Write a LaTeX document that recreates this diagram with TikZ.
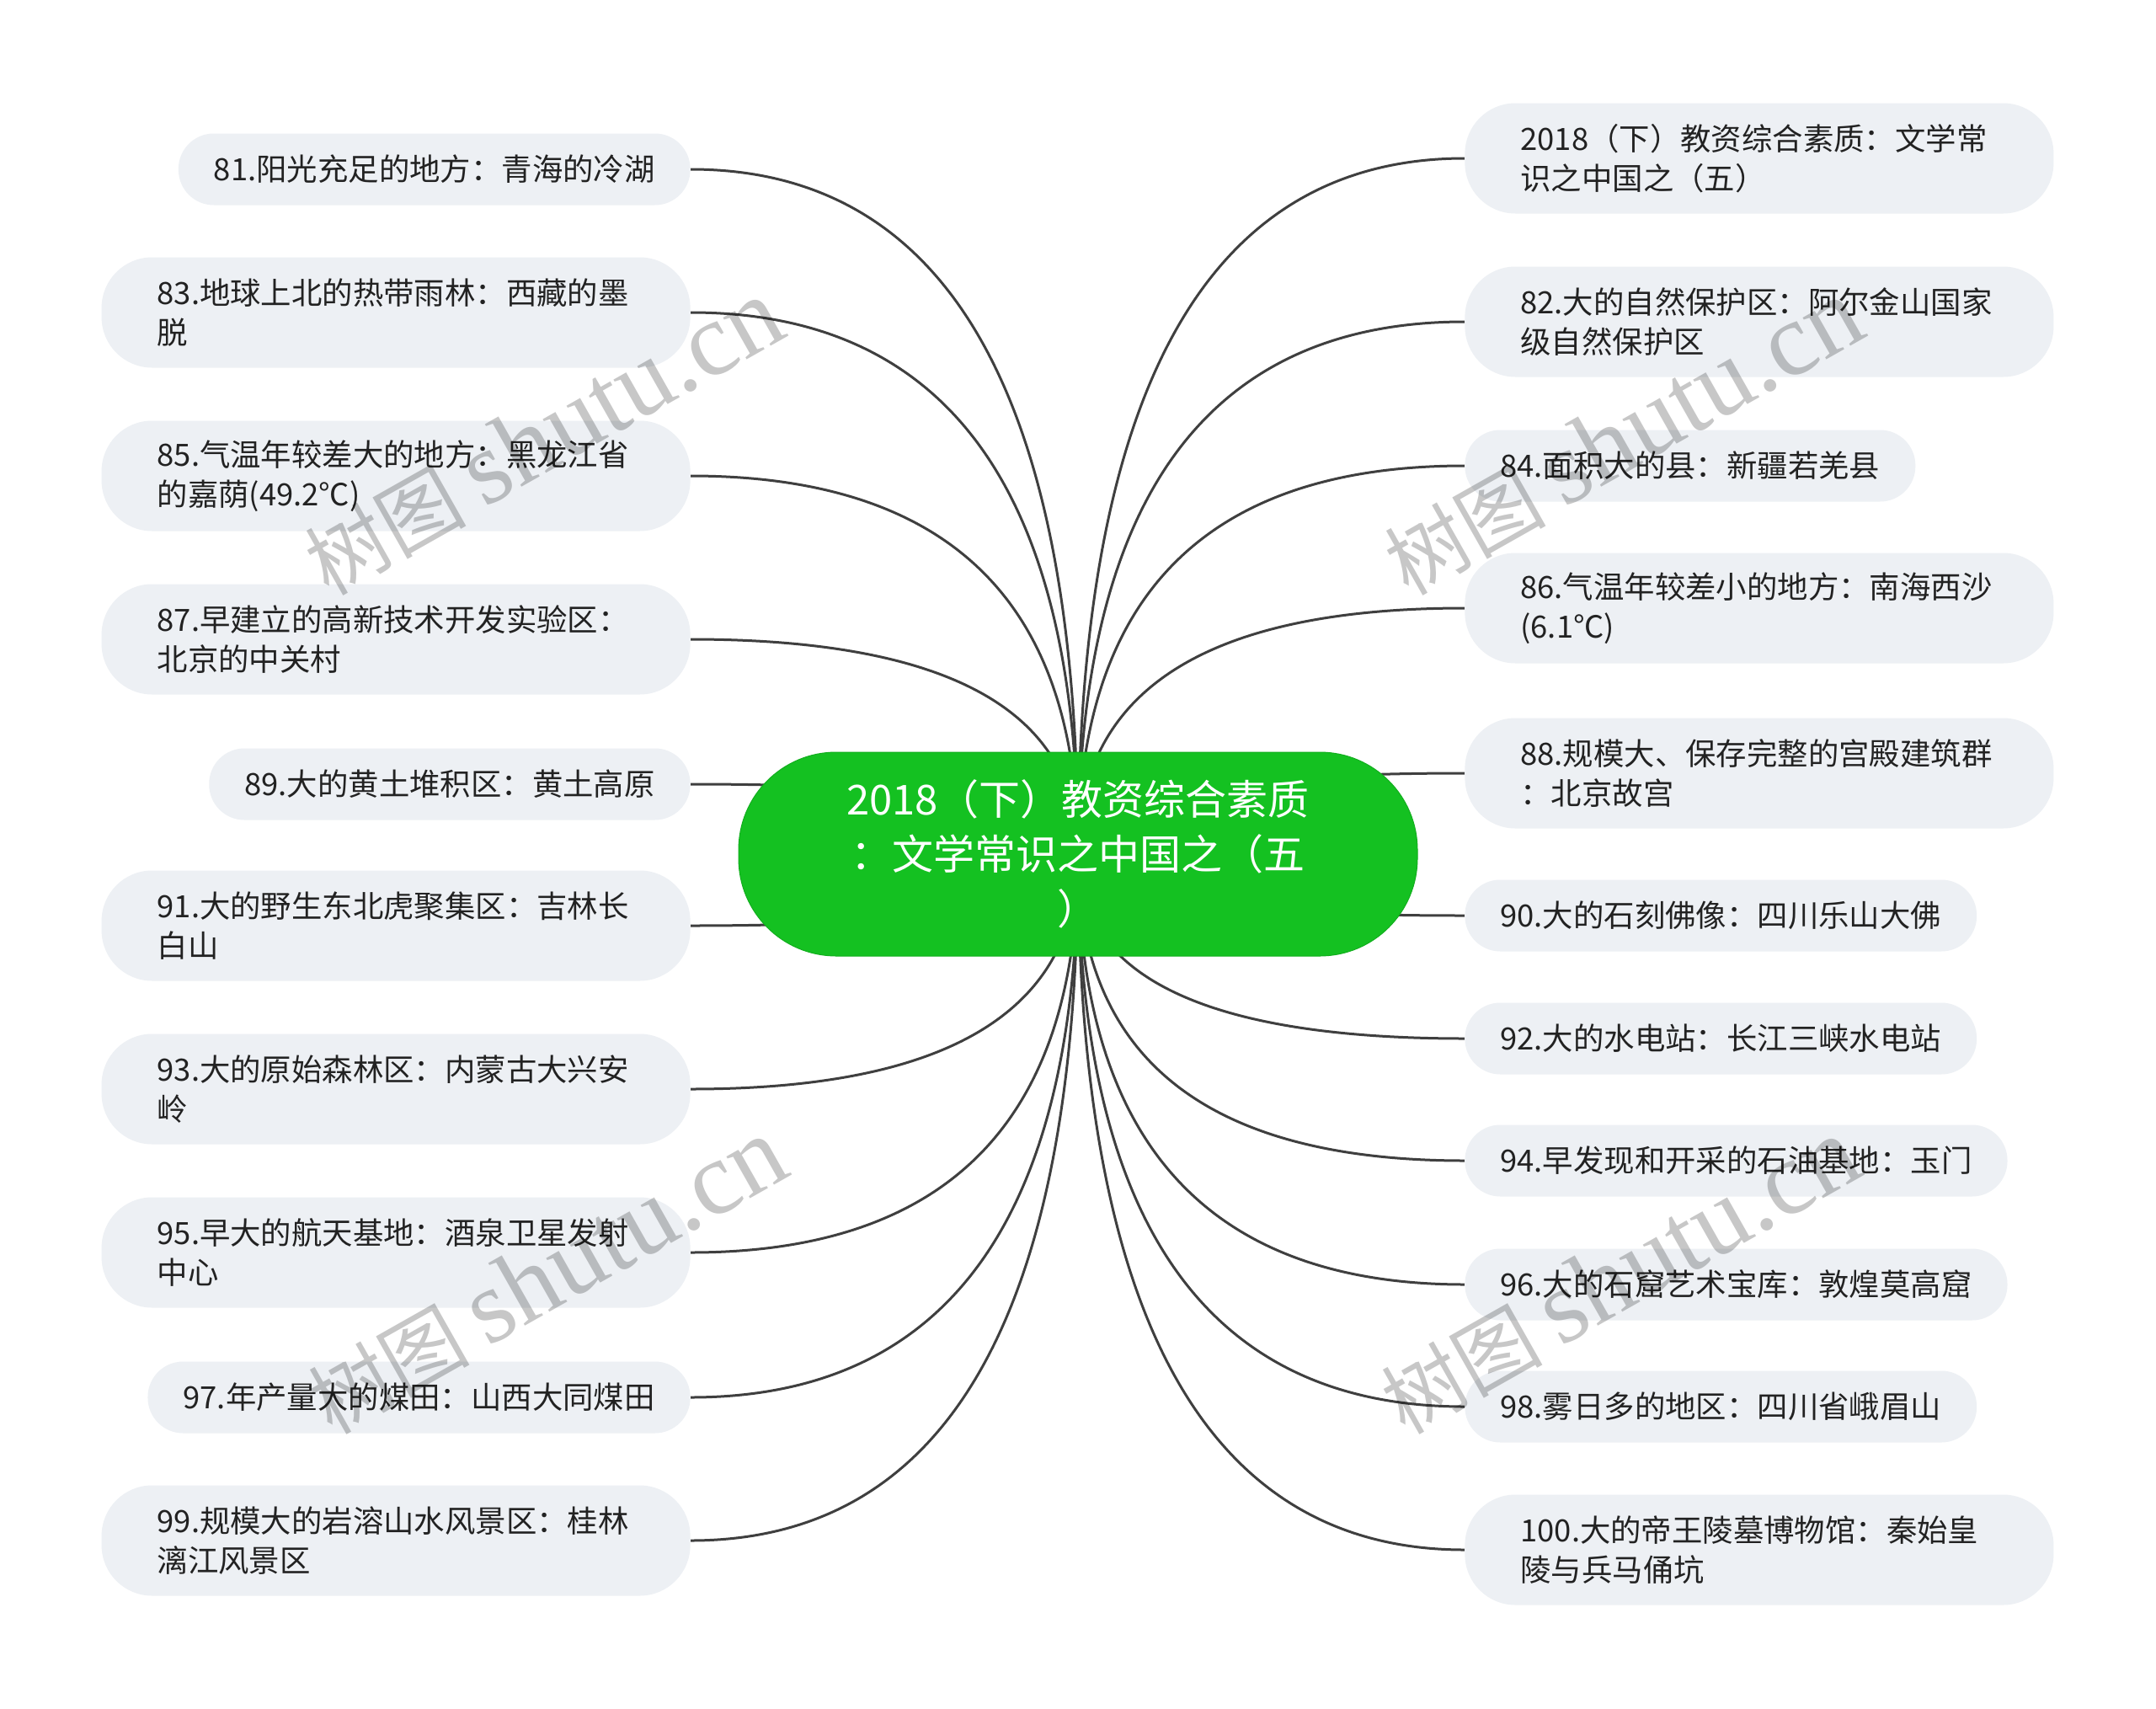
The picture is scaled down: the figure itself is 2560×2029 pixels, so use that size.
\documentclass[tikz,border=0pt]{standalone}
\usepackage{fontspec}
\setmainfont{Noto Sans CJK SC}
\newfontfamily\wmlat{Liberation Serif}
\usetikzlibrary{calc}
\pgfdeclarelayer{bg}
\pgfsetlayers{bg,main}
\definecolor{leaffill}{HTML}{EDF0F4}
\definecolor{leaftext}{HTML}{222222}
\definecolor{rootfill}{HTML}{14C121}
\definecolor{rootedge}{HTML}{12AE1E}
\definecolor{conncol}{HTML}{3F3F3F}
\tikzset{
  leaf/.style={fill=leaffill, text=leaftext, align=left, inner ysep=0pt,
    font=\fontsize{18.2pt}{23.5pt}\selectfont},
  oneline/.style={leaf, minimum height=42.5pt, inner xsep=21pt, rounded corners=21pt},
  twoline/.style={leaf, minimum height=65.5pt, text width=283.5pt, inner xsep=33pt, rounded corners=30pt},
  rootbox/.style={fill=rootfill, draw=rootedge, line width=0.5pt, text=white, align=center,
    minimum width=403pt, minimum height=121pt, rounded corners=58pt,
    font=\fontsize{24.5pt}{32.5pt}\selectfont},
  conn/.style={draw=conncol, line width=1.5pt},
  wm/.style={text=black, text opacity=0.22, inner sep=0pt}
}
\begin{document}
\begin{tikzpicture}[x=0.5pt,y=-0.5pt]
\useasboundingbox (0,0) rectangle (2560,2029);

\node[rootbox] (root) at (1280,1014) {2018（下）教资综合素质\\：文学常识之中国之（五\\）};

% left side
\node[oneline, anchor=east] (l1) at (820,201) {81.阳光充足的地方：青海的冷湖};
\node[twoline, anchor=east] (l2) at (820,371) {83.地球上北的热带雨林：西藏的墨\\脱};
\node[twoline, anchor=east] (l3) at (820,565) {85.气温年较差大的地方：黑龙江省\\的嘉荫(49.2℃)};
\node[twoline, anchor=east] (l4) at (820,759) {87.早建立的高新技术开发实验区：\\北京的中关村};
\node[oneline, anchor=east] (l5) at (820,931) {89.大的黄土堆积区：黄土高原};
\node[twoline, anchor=east] (l6) at (820,1099) {91.大的野生东北虎聚集区：吉林长\\白山};
\node[twoline, anchor=east] (l7) at (820,1293) {93.大的原始森林区：内蒙古大兴安\\岭};
\node[twoline, anchor=east] (l8) at (820,1487) {95.早大的航天基地：酒泉卫星发射\\中心};
\node[oneline, anchor=east] (l9) at (820,1659) {97.年产量大的煤田：山西大同煤田};
\node[twoline, anchor=east] (l10) at (820,1829) {99.规模大的岩溶山水风景区：桂林\\漓江风景区};

% right side
\node[twoline, anchor=west] (r1) at (1739,188) {2018（下）教资综合素质：文学常\\识之中国之（五）};
\node[twoline, anchor=west] (r2) at (1739,382) {82.大的自然保护区：阿尔金山国家\\级自然保护区};
\node[oneline, anchor=west] (r3) at (1739,553) {84.面积大的县：新疆若羌县};
\node[twoline, anchor=west] (r4) at (1739,722) {86.气温年较差小的地方：南海西沙\\(6.1℃)};
\node[twoline, anchor=west] (r5) at (1739,918) {88.规模大、保存完整的宫殿建筑群\\：北京故宫};
\node[oneline, anchor=west] (r6) at (1739,1087) {90.大的石刻佛像：四川乐山大佛};
\node[oneline, anchor=west] (r7) at (1739,1233) {92.大的水电站：长江三峡水电站};
\node[oneline, anchor=west] (r8) at (1739,1378) {94.早发现和开采的石油基地：玉门};
\node[oneline, anchor=west] (r9) at (1739,1525) {96.大的石窟艺术宝库：敦煌莫高窟};
\node[oneline, anchor=west] (r10) at (1739,1670) {98.雾日多的地区：四川省峨眉山};
\node[twoline, anchor=west] (r11) at (1739,1840) {100.大的帝王陵墓博物馆：秦始皇\\陵与兵马俑坑};

\begin{pgfonlayer}{bg}
\fill[white] (0,0) rectangle (2560,2029);
\foreach \n/\a in {l1/east,l2/east,l3/east,l4/east,l5/east,l6/east,l7/east,l8/east,l9/east,l10/east,
  r1/west,r2/west,r3/west,r4/west,r5/west,r6/west,r7/west,r8/west,r9/west,r10/west,r11/west}{
  \draw[conn] (root.center) .. controls ($(root.center)!0.6667!(root.center |- \n.\a)$)
     and ($(\n.\a)!0.6667!(root.center |- \n.\a)$) .. (\n.\a);
}
\end{pgfonlayer}

% watermarks
\node[wm, rotate=29.5] (w1) at (645,519) {\fontsize{48pt}{48pt}\selectfont 树图 {\wmlat\fontsize{62pt}{62pt}\selectfont shutu.cn}};
\node[wm, rotate=29.5] (w2) at (1927,519) {\fontsize{48pt}{48pt}\selectfont 树图 {\wmlat\fontsize{62pt}{62pt}\selectfont shutu.cn}};
\node[wm, rotate=29.5] (w3) at (649,1515) {\fontsize{48pt}{48pt}\selectfont 树图 {\wmlat\fontsize{62pt}{62pt}\selectfont shutu.cn}};
\node[wm, rotate=29.5] (w4) at (1923,1515) {\fontsize{48pt}{48pt}\selectfont 树图 {\wmlat\fontsize{62pt}{62pt}\selectfont shutu.cn}};
\end{tikzpicture}
\end{document}
